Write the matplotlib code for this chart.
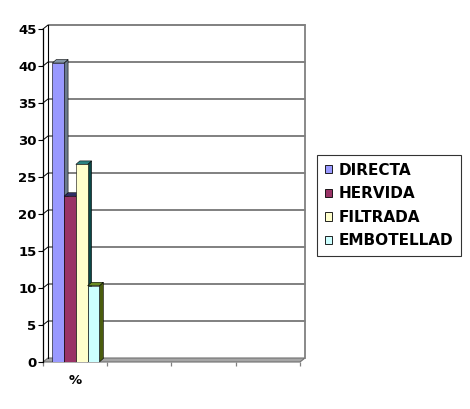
import matplotlib
matplotlib.use("Agg")
import matplotlib.pyplot as plt
from matplotlib.patches import Polygon, Patch
from matplotlib.lines import Line2D
from matplotlib.transforms import IdentityTransform
from matplotlib import font_manager
import numpy as np

categories = ['%', '', '', '']
series_names = ['DIRECTA', 'HERVIDA', 'FILTRADA', 'EMBOTELLAD']
directa = [40.4, 0, 0, 0]
hervida = [22.4, 0, 0, 0]
filtrada = [26.7, 0, 0, 0]
embotellad = [10.3, 0, 0, 0]
y_ticks = [0, 5, 10, 15, 20, 25, 30, 35, 40, 45]

series = [directa, hervida, filtrada, embotellad]
front_colors = ['#9999FF', '#993366', '#FFFFCC', '#CCFFFF']
side_colors = ['#6b7b8c', '#3a2a50', '#0b4848', '#4a5c0e']
top_colors = ['#8596a6', '#2e2e66', '#2b8282', '#6b8c22']


def FP(size):
    return font_manager.FontProperties(family='DejaVu Sans', weight='bold', size=size)


W, H = 470, 409
fig = plt.figure(figsize=(W / 100, H / 100), dpi=100)
ax = fig.add_axes([43 / W, 47 / H, 257 / W, 333 / H])
ax.set_xlim(0, len(categories))
ax.set_ylim(0, 45)
ax.set_facecolor('none')
for s in ['top', 'right', 'bottom']:
    ax.spines[s].set_visible(False)
ax.spines['left'].set_color('black')
ax.spines['left'].set_linewidth(0.9)
ax.spines['left'].set_zorder(20)

ax.set_yticks(y_ticks)
ax.set_yticklabels([str(t) for t in y_ticks], fontproperties=FP(9.5))
ax.tick_params(axis='y', direction='out', length=3.6, width=0.8, pad=1, colors='black')

ax.set_xticks(np.arange(len(categories) + 1))
ax.set_xticklabels([''] * (len(categories) + 1))
ax.tick_params(axis='x', which='major', direction='out', length=3, width=0.9, color='#808080')
ax.set_xticks(np.arange(len(categories)) + 0.5, minor=True)
ax.set_xticklabels(categories, minor=True, fontproperties=FP(9.5))
ax.tick_params(axis='x', which='minor', length=0, pad=9)

fig.canvas.draw()
ID = IdentityTransform()
WALL = np.array([5.0, 4.0])
BAR_D = np.array([4.0, 3.5])


def disp(x, y, off=(0.0, 0.0)):
    p = ax.transData.transform((x, y))
    return p + np.asarray(off)


def poly(pts, fc, ec, lw, z):
    pg = Polygon(np.array(pts), closed=True, facecolor=fc, edgecolor=ec,
                 linewidth=lw, transform=ID, zorder=z, clip_on=False)
    ax.add_artist(pg)


def line(pts, color, lw, z):
    pts = np.array(pts)
    ln = Line2D(pts[:, 0], pts[:, 1], color=color, linewidth=lw, transform=ID,
                zorder=z, clip_on=False)
    ax.add_artist(ln)


nc = len(categories)
# floor
poly([disp(0, 0), disp(nc, 0), disp(nc, 0, WALL), disp(0, 0, WALL)],
     '#a6a6a6', '#707070', 0.8, 1)
# back wall gridlines and side wall diagonals
for t in y_ticks:
    if t == 0:
        continue
    line([disp(0, t), disp(0, t, WALL), disp(nc, t, WALL)], 'black', 0.7, 1.5)
# back wall left edge
line([disp(0, 0, WALL), disp(0, 45, WALL)], 'black', 0.8, 1.5)
# right wall edge
line([disp(nc, 0, WALL), disp(nc, 45, WALL)], '#808080', 1.3, 1.5)

# bars
bar_w = 0.183
first_off = 0.145
for k, (vals, fc, sc, tc) in enumerate(zip(series, front_colors, side_colors, top_colors)):
    for i, v in enumerate(vals):
        if v <= 0:
            continue
        x0 = i + first_off + k * bar_w
        x1 = x0 + bar_w
        z = 3 + k
        ax.bar(x0, v, width=bar_w, align='edge', color=fc, edgecolor='black',
               linewidth=0.4, zorder=z + 0.5)
        poly([disp(x1, 0), disp(x1, v), disp(x1, v, BAR_D), disp(x1, 0, BAR_D)],
             sc, 'black', 0.4, z)
        poly([disp(x0, v), disp(x1, v), disp(x1, v, BAR_D), disp(x0, v, BAR_D)],
             tc, 'black', 0.4, z)

handles = [Patch(facecolor=c, edgecolor='black', linewidth=0.6) for c in front_colors]
leg = fig.legend(handles, series_names, loc='upper left',
                 bbox_to_anchor=(317 / W, 1 - 155 / H), bbox_transform=fig.transFigure,
                 borderaxespad=0, frameon=True, fancybox=False, shadow=False,
                 prop=FP(11),
                 handlelength=0.48, handleheight=0.48, handletextpad=0.45,
                 labelspacing=0.56, borderpad=0.5)
leg.get_frame().set_edgecolor('black')
leg.get_frame().set_linewidth(0.8)

fig.savefig('out.png', dpi=100)
